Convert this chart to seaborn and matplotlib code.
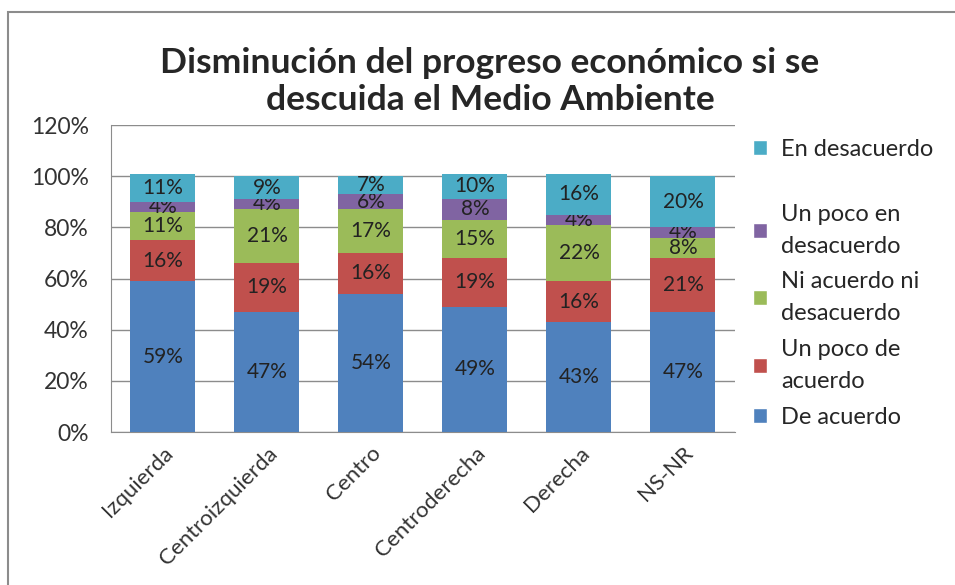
import matplotlib
matplotlib.use("Agg")
import matplotlib.pyplot as plt
import seaborn as sns
import numpy as np
from matplotlib.patches import Patch, Rectangle

# Data (percent)
categories = ["Izquierda", "Centroizquierda", "Centro", "Centroderecha", "Derecha", "NS-NR"]
de_acuerdo = [59, 47, 54, 49, 43, 47]
un_poco_de_acuerdo = [16, 19, 16, 19, 16, 21]
ni_acuerdo = [11, 21, 17, 15, 22, 8]
un_poco_desacuerdo = [4, 4, 6, 8, 4, 4]
en_desacuerdo = [11, 9, 7, 10, 16, 20]

series_names = ["De acuerdo", "Un poco de\nacuerdo", "Ni acuerdo ni\ndesacuerdo",
                "Un poco en\ndesacuerdo", "En desacuerdo"]
series_values = [de_acuerdo, un_poco_de_acuerdo, ni_acuerdo, un_poco_desacuerdo, en_desacuerdo]
colors = ["#4F81BD", "#C0504D", "#9BBB59", "#8064A2", "#4BACC6"]

sns.set_style("white")
plt.rcParams["font.family"] = ["Lato", "DejaVu Sans"]

fig = plt.figure(figsize=(9.55, 5.85), dpi=100)
ax = fig.add_axes([0.1162, 0.2615, 0.6534, 0.5248])

bottom = np.zeros(len(categories))
for name, vals, col in zip(series_names, series_values, colors):
    vals = np.array(vals, dtype=float)
    sns.barplot(x=categories, y=vals, bottom=bottom, color=col, width=0.625,
                saturation=1, linewidth=0, ax=ax, zorder=3)
    ax.bar_label(ax.containers[-1], labels=[f"{int(v)}%" for v in vals],
                 label_type="center", fontsize=15, color="#222222")
    bottom += vals

ax.set_ylim(0, 120)
ax.set_xlim(-0.5, 5.5)
ax.set_yticks(np.arange(0, 121, 20))
ax.set_yticklabels([f"{t}%" for t in range(0, 121, 20)], fontsize=16.5, color="#333333")
ax.set_xticks(range(len(categories)))
ax.set_xticklabels(categories, rotation=45, ha="right", rotation_mode="anchor",
                   fontsize=16, color="#333333")
ax.yaxis.grid(True, color="#8c8c8c", lw=1, zorder=0)
ax.tick_params(axis="y", length=4, color="#8c8c8c", pad=12)
ax.tick_params(axis="x", length=0, pad=8)
for s in ["top", "right"]:
    ax.spines[s].set_visible(False)
ax.spines["left"].set_color("#8c8c8c")
ax.spines["bottom"].set_color("#8c8c8c")

fig.suptitle("Disminución del progreso económico si se\ndescuida el Medio Ambiente",
             x=0.513, y=0.92, fontsize=25.5, fontweight="bold", linespacing=1.2)

# legend: top entry stands apart, the rest are packed closer (as in the original)
handles = [Patch(facecolor=c, label=n) for c, n in zip(colors, series_names)][::-1]
leg_kw = dict(loc="upper left", frameon=False, fontsize=17, handlelength=0.6,
              handleheight=0.6, handletextpad=0.6, borderpad=0, borderaxespad=0)
leg1 = fig.legend(handles=handles[:1], bbox_to_anchor=(0.788, 0.762), **leg_kw)
leg2 = fig.legend(handles=handles[1:], bbox_to_anchor=(0.788, 0.652),
                  labelspacing=0.62, **leg_kw)
for t in leg2.get_texts():
    t.set_linespacing(1.65)

# chart frame
fig.patches.append(Rectangle((8 / 955, -0.1), 1.0, 1.1 - 12 / 585, transform=fig.transFigure,
                             fill=False, edgecolor="#8c8c8c", lw=1.5))

fig.savefig("out.png", dpi=100)
